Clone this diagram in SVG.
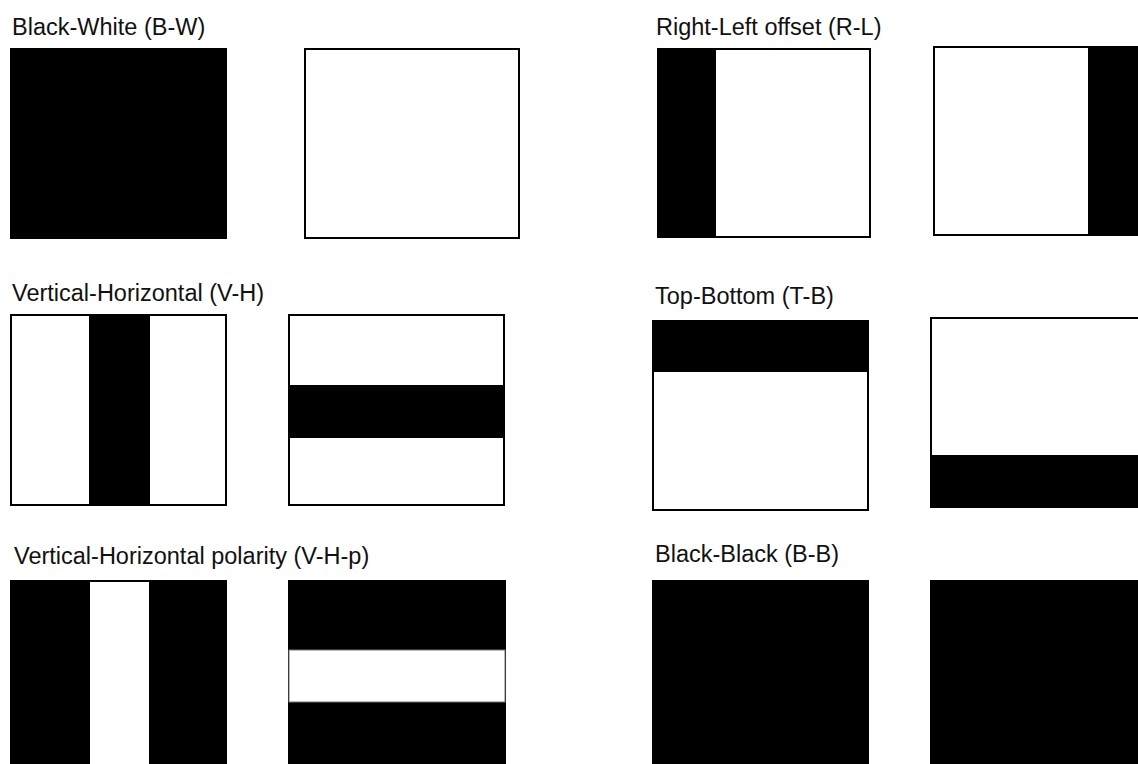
<svg xmlns="http://www.w3.org/2000/svg" width="1138" height="764" viewBox="0 0 1138 764">
<style>
text{font-family:"Liberation Sans",Arial,sans-serif;font-size:23.5px;fill:#111}
.w{fill:#fff;stroke:#000;stroke-width:2}
.b{fill:#000;stroke:#000;stroke-width:1}
.k{fill:#000}
.wf{fill:#fff}
</style>
<rect width="1138" height="764" fill="#fff"/>
<g id="label-bw"><text x="12" y="35">Black-White (B-W)</text></g>
<g id="label-rl"><text x="656" y="35">Right-Left offset (R-L)</text></g>
<g id="label-vh"><text x="12" y="301">Vertical-Horizontal (V-H)</text></g>
<g id="label-tb"><text x="655" y="304">Top-Bottom (T-B)</text></g>
<g id="label-vhp"><text x="14" y="564">Vertical-Horizontal polarity (V-H-p)</text></g>
<g id="label-bb"><text x="655" y="562">Black-Black (B-B)</text></g>

<g id="bw-1"><rect class="b" x="10.5" y="48.5" width="216" height="190"/></g>
<g id="bw-2"><rect class="w" x="305" y="49" width="214" height="189"/></g>

<g id="rl-1"><rect class="w" x="658" y="49" width="212" height="188"/><rect class="k" x="657" y="48" width="59" height="190"/></g>
<g id="rl-2"><rect class="w" x="934" y="47" width="210" height="188"/><rect class="k" x="1088" y="46" width="60" height="190"/></g>

<g id="vh-1"><rect class="w" x="11" y="315" width="215" height="190"/><rect class="k" x="89" y="315" width="61" height="190"/></g>
<g id="vh-2"><rect class="w" x="289" y="315" width="215" height="190"/><rect class="k" x="289" y="385" width="215" height="53"/></g>

<g id="tb-1"><rect class="w" x="653" y="321" width="215" height="189"/><rect class="k" x="652" y="320" width="217" height="52"/></g>
<g id="tb-2"><rect class="w" x="931" y="318" width="215" height="189"/><rect class="k" x="930" y="455" width="216" height="53"/></g>

<g id="vhp-1"><rect class="b" x="10.5" y="580.5" width="216" height="190"/><rect class="wf" x="90" y="582" width="59" height="190"/></g>
<g id="vhp-2"><rect class="b" x="288.5" y="580.5" width="217" height="190"/><rect class="wf" x="289" y="650" width="216" height="52" stroke="#777" stroke-width="1"/></g>

<g id="bb-1"><rect class="b" x="652.5" y="580.5" width="216" height="190"/></g>
<g id="bb-2"><rect class="b" x="930.5" y="580.5" width="216" height="190"/></g>
</svg>
